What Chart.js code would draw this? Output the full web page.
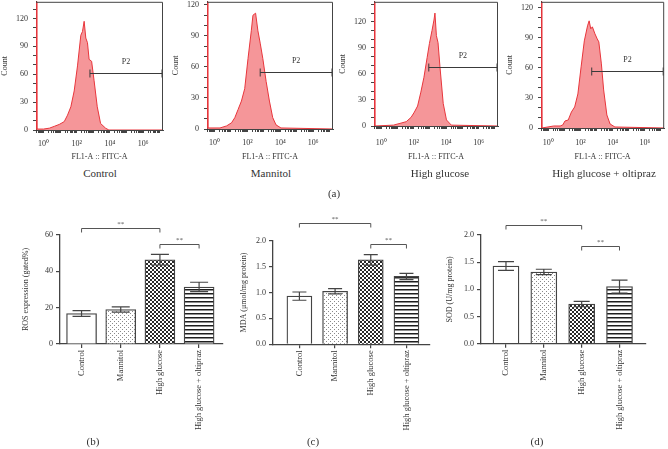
<!DOCTYPE html>
<html>
<head>
<meta charset="utf-8">
<script src="https://cdn.jsdelivr.net/npm/chart.js@4.4.1/dist/chart.umd.min.js"></script>
<style>
  body { margin: 0; background: #fff; width: 668px; height: 449px; overflow: hidden; position: relative;
         font-family: "Liberation Serif", serif; color: #333; }
  .box { position: absolute; }
  .cap { position: absolute; font-size: 11px; transform: translate(-50%, -50%); white-space: nowrap; }
</style>
</head>
<body>
<div class="box" style="left:0;top:-4px;width:170px;height:169px"><canvas id="h1"></canvas></div>
<div class="box" style="left:171px;top:-4px;width:170px;height:169px"><canvas id="h2"></canvas></div>
<div class="box" style="left:338px;top:-4px;width:170px;height:169px"><canvas id="h3"></canvas></div>
<div class="box" style="left:505px;top:-4px;width:163px;height:169px"><canvas id="h4"></canvas></div>

<div class="cap" style="left:100px;top:173px">Control</div>
<div class="cap" style="left:271px;top:173px">Mannitol</div>
<div class="cap" style="left:440px;top:173px">High glucose</div>
<div class="cap" style="left:604px;top:173px">High glucose + oltipraz</div>
<div class="cap" style="left:334px;top:193px">(a)</div>

<div class="box" style="left:14px;top:205px;width:216px;height:245px"><canvas id="b1"></canvas></div>
<div class="box" style="left:234px;top:205px;width:206px;height:245px"><canvas id="b2"></canvas></div>
<div class="box" style="left:444px;top:205px;width:224px;height:245px"><canvas id="b3"></canvas></div>

<div class="cap" style="left:93px;top:441px">(b)</div>
<div class="cap" style="left:313px;top:441px">(c)</div>
<div class="cap" style="left:537px;top:441px">(d)</div>

<script>
// flow cytometry histograms (x = log10 of FL1-A, y = count)
const controlLogFL1 = [-0.45, -0.4, 0.0, 0.36, 0.66, 0.95, 1.25, 1.45, 1.65, 1.85, 2.05, 2.25, 2.35, 2.45, 2.55, 2.65, 2.75, 2.9, 3.05, 3.24, 3.44, 3.74, 3.94, 7.2];
const controlCount  = [150, 1, 1, 2, 4, 6, 9, 16, 25, 42, 69, 102, 106, 117, 99, 94, 76, 74, 53, 25, 7, 2, 0, 0];
const mannitolLogFL1 = [-0.45, -0.4, 0.34, 0.74, 1.04, 1.24, 1.44, 1.64, 1.84, 2.04, 2.24, 2.34, 2.5, 2.64, 2.78, 2.94, 3.14, 3.34, 3.54, 3.74, 4.04, 7.2];
const mannitolCount  = [150, 1, 1, 3, 6, 11, 19, 27, 39, 68, 95, 110, 112, 95, 83, 68, 46, 27, 11, 4, 1, 0];
const hgLogFL1 = [-0.45, -0.4, 0.75, 1.15, 1.54, 1.84, 2.04, 2.24, 2.44, 2.63, 2.83, 2.97, 3.13, 3.25, 3.31, 3.4, 3.5, 3.62, 3.82, 4.02, 4.32, 7.2];
const hgCount  = [160, 0, 1, 3, 5, 10, 16, 23, 39, 56, 79, 95, 110, 122, 130, 104, 96, 68, 26, 7, 1, 0];
const oltLogFL1 = [-0.45, -0.4, 0.34, 0.74, 0.9, 1.04, 1.24, 1.44, 1.64, 1.84, 2.04, 2.24, 2.44, 2.54, 2.64, 2.74, 2.9, 3.04, 3.14, 3.3, 3.44, 3.64, 3.84, 4.14, 7.2];
const oltCount  = [150, 0, 2, 2, 3, 7, 8, 16, 21, 34, 61, 87, 102, 107, 99, 101, 94, 89, 86, 64, 38, 13, 4, 1, 0];

const histMaxCount = [138, 123, 143, 126];
const gateFrom  = [2.8, 2.78, 2.93, 2.7];
const gateCount = [61, 55, 68, 57];

// bar charts (mean and error)
const groups  = ["Control", "Mannitol", "High glucose", "High glucose + oltipraz"];
const rosMean = [16.8, 19.0, 46.4, 31.4];
const rosErr  = [1.6, 1.4, 2.9, 2.6];
const mdaMean = [0.93, 1.025, 1.63, 1.31];
const mdaErr  = [0.08, 0.05, 0.10, 0.06];
const sodMean = [1.43, 1.32, 0.73, 1.05];
const sodErr  = [0.08, 0.05, 0.05, 0.12];

Chart.defaults.font.family = '"Liberation Serif", serif';
Chart.defaults.color = "#333";

const SUP = { 0: "\u2070", 2: "\u00B2", 4: "\u2074", 6: "\u2076" };
const LOG_MIN = -0.45, LOG_MAX = 7.2;

const boxFrame = {
  id: "boxFrame",
  afterDraw(chart) {
    const { ctx, chartArea: a } = chart;
    ctx.save();
    ctx.strokeStyle = "#444";
    ctx.lineWidth = 1;
    ctx.beginPath();
    ctx.moveTo(a.left, a.top + 0.5);
    ctx.lineTo(a.right - 0.5, a.top + 0.5);
    ctx.lineTo(a.right - 0.5, a.bottom);
    ctx.stroke();
    ctx.restore();
  }
};

const gateMarker = {
  id: "gateMarker",
  afterDatasetsDraw(chart, args, opts) {
    const { ctx, scales: { x, y } } = chart;
    const x1 = x.getPixelForValue(opts.from), x2 = x.getPixelForValue(LOG_MAX) - 1;
    const yy = Math.round(y.getPixelForValue(opts.count)) + 0.5;
    ctx.save();
    ctx.strokeStyle = "#3a3a3a";
    ctx.lineWidth = 1;
    ctx.beginPath();
    ctx.moveTo(x1, yy); ctx.lineTo(x2, yy);
    ctx.moveTo(x1, yy - 4); ctx.lineTo(x1, yy + 4);
    ctx.moveTo(x2, yy - 4); ctx.lineTo(x2, yy + 4);
    ctx.stroke();
    ctx.fillStyle = "#333";
    ctx.font = '8px "Liberation Serif", serif';
    ctx.textAlign = "center";
    ctx.textBaseline = "middle";
    ctx.fillText("P2", (x1 + x2) / 2, yy - 12);
    ctx.restore();
  }
};

function histChart(id, xs, ys, idx, xh, padRight, labelPad) {
  const pts = xs.map((v, i) => ({ x: v, y: ys[i] }));
  const ymax = histMaxCount[idx];
  return new Chart(document.getElementById(id), {
    type: "line",
    data: { datasets: [{
      data: pts, borderColor: "#e8363c", borderWidth: 1,
      backgroundColor: "rgba(238,80,85,0.6)", fill: "origin",
      pointRadius: 0, tension: 0
    }] },
    options: {
      animation: false, responsive: true, maintainAspectRatio: false,
      layout: { padding: { top: 1, right: padRight } },
      plugins: { legend: { display: false }, tooltip: { enabled: false },
                 gateMarker: { from: gateFrom[idx], count: gateCount[idx] } },
      scales: {
        x: {
          type: "linear", min: LOG_MIN, max: LOG_MAX,
          afterBuildTicks: s => {
            const t = [];
            for (let d = -1; d <= 7; d++)
              for (let k = 1; k < 10; k++) {
                const v = d + Math.log10(k);
                if (v >= LOG_MIN && v <= LOG_MAX) t.push({ value: v });
              }
            s.ticks = t;
          },
          afterFit: s => { s.height = xh; },
          grid: { display: true, drawOnChartArea: false, tickLength: 3, color: "#444" },
          border: { color: "#444", width: 1 },
          ticks: {
            autoSkip: false, maxRotation: 0, padding: labelPad, font: { size: 8 }, color: "#333",
            callback: v => {
              const r = Math.round(v);
              return (Math.abs(v - r) < 1e-6 && r >= 0 && r % 2 === 0) ? "10" + SUP[r] : "";
            }
          },
          title: { display: true, text: "FL1-A :: FITC-A", font: { size: 8 }, color: "#333", padding: { top: 0, bottom: 3 } }
        },
        y: {
          min: 0, max: ymax,
          afterBuildTicks: s => {
            const t = [];
            for (let v = 0; v < ymax; v += 10) t.push({ value: v });
            s.ticks = t;
          },
          afterFit: s => { s.width = 36; },
          grid: { display: true, drawOnChartArea: false, tickLength: 3, color: "#444" },
          border: { color: "#333", width: 1 },
          ticks: { autoSkip: false, padding: 5, font: { size: 8, lineHeight: 0.2 }, color: "#333",
                   callback: v => (v % 30 === 0 ? String(v) : "") },
          title: { display: true, text: "Count", font: { size: 8 }, color: "#333", padding: { top: 0, bottom: 0 } }
        }
      }
    },
    plugins: [boxFrame, gateMarker]
  });
}

histChart("h1", controlLogFL1, controlCount, 0, 35, 7, 6);
histChart("h2", mannitolLogFL1, mannitolCount, 1, 36, 8, 6);
histChart("h3", hgLogFL1, hgCount, 2, 39, 10, 9);
histChart("h4", oltLogFL1, oltCount, 3, 37, 1, 7);

// fill patterns for the bars
function makePattern(w, h, draw) {
  const c = document.createElement("canvas");
  c.width = w; c.height = h;
  const g = c.getContext("2d");
  g.fillStyle = "#fff";
  g.fillRect(0, 0, w, h);
  draw(g);
  return g.createPattern(c, "repeat");
}
const dotted = makePattern(4, 4, g => {
  g.fillStyle = "#8a8a8a";
  g.fillRect(0, 0, 1, 1);
  g.fillRect(2, 2, 1, 1);
});
const checker = makePattern(4, 4, g => {
  g.fillStyle = "#2a2a2a";
  g.fillRect(2, 0, 2, 2);
  g.fillRect(0, 2, 2, 2);
});
const striped = makePattern(4, 4, g => {
  g.fillStyle = "#1e1e1e";
  g.fillRect(0, 0, 4, 1);
  g.fillStyle = "rgba(30,30,30,0.5)";
  g.fillRect(0, 1, 4, 1);
});
const barFills = ["#ffffff", dotted, checker, striped];

const errorBars = {
  id: "errorBars",
  afterDatasetsDraw(chart, args, opts) {
    const { ctx, scales: { y } } = chart;
    const meta = chart.getDatasetMeta(0);
    ctx.save();
    ctx.strokeStyle = "#444";
    ctx.lineWidth = 1.2;
    meta.data.forEach((bar, i) => {
      const m = opts.mean[i], e = opts.err[i];
      const yt = y.getPixelForValue(m + e), yb = y.getPixelForValue(m - e);
      const hw = opts.cap / 2;
      ctx.beginPath();
      ctx.moveTo(bar.x, yt); ctx.lineTo(bar.x, yb);
      ctx.moveTo(bar.x - hw, yt); ctx.lineTo(bar.x + hw, yt);
      ctx.moveTo(bar.x - hw, yb); ctx.lineTo(bar.x + hw, yb);
      ctx.stroke();
    });
    ctx.restore();
  }
};

const sigBrackets = {
  id: "sigBrackets",
  afterDraw(chart, args, opts) {
    const { ctx, scales: { x, y } } = chart;
    ctx.save();
    ctx.strokeStyle = "#555";
    ctx.lineWidth = 1;
    ctx.fillStyle = "#555";
    ctx.font = '7px "Liberation Serif", serif';
    ctx.textAlign = "center";
    ctx.textBaseline = "alphabetic";
    opts.items.forEach(b => {
      const x1 = x.getPixelForValue(b.from), x2 = x.getPixelForValue(b.to);
      const yy = Math.round(y.getPixelForValue(b.at)) + 0.5;
      ctx.beginPath();
      ctx.moveTo(x1, yy + 4); ctx.lineTo(x1, yy); ctx.lineTo(x2, yy); ctx.lineTo(x2, yy + 4);
      ctx.stroke();
      ctx.fillText("**", (x1 + x2) / 2, yy - 3);
    });
    ctx.restore();
  }
};

function barChart(id, mean, err, o) {
  return new Chart(document.getElementById(id), {
    type: "bar",
    data: { datasets: [{
      data: mean.map((v, i) => ({ x: i, y: v })),
      backgroundColor: barFills, borderColor: "#444", borderWidth: 1.3,
      barThickness: o.bw, borderSkipped: "bottom"
    }] },
    options: {
      animation: false, responsive: true, maintainAspectRatio: false,
      layout: { padding: { top: o.top, right: o.right } },
      plugins: { legend: { display: false }, tooltip: { enabled: false },
                 errorBars: { mean: mean, err: err, cap: o.cap },
                 sigBrackets: { items: o.brackets } },
      scales: {
        x: {
          type: "linear", min: o.xmin, max: o.xmax, offset: false,
          afterBuildTicks: s => { s.ticks = groups.map((g, i) => ({ value: i })); },
          afterFit: s => { s.height = o.xh; },
          grid: { display: true, offset: false, drawOnChartArea: false, tickLength: 4, color: "#444", lineWidth: 1.2 },
          border: { color: "#444", width: 1.3 },
          ticks: { autoSkip: false, minRotation: 90, maxRotation: 90, padding: 2,
                   font: { size: 8.5 }, color: "#333", callback: v => groups[v] }
        },
        y: {
          min: 0, max: o.ymax,
          afterFit: s => { s.width = o.yw; },
          grid: { display: true, drawOnChartArea: false, tickLength: 4, color: "#444", lineWidth: 1.2 },
          border: { color: "#444", width: 1.3 },
          ticks: { stepSize: o.step, padding: 3, font: { size: 8 }, color: "#333",
                   callback: v => (o.step < 1 ? v.toFixed(1) : String(v)) },
          title: { display: true, text: o.title, font: { size: 8 }, color: "#333",
                   padding: { top: o.tpad, bottom: 0 } }
        }
      }
    },
    plugins: [errorBars, sigBrackets]
  });
}

barChart("b1", rosMean, rosErr, {
  ymax: 60, step: 20, title: "ROS expression (gated%)", tpad: 7,
  xmin: -0.55, xmax: 3.61, bw: 30, cap: 18, top: 30, right: 7, xh: 106, yw: 46,
  brackets: [{ from: 0, to: 2, at: 64 }, { from: 2, to: 3, at: 55.3 }]
});
barChart("b2", mdaMean, mdaErr, {
  ymax: 2.0, step: 0.5, title: "MDA (\u03BCmol/mg protein)", tpad: 5,
  xmin: -0.74, xmax: 3.66, bw: 25, cap: 14, top: 35.7, right: 10, xh: 105.7, yw: 39,
  brackets: [{ from: 0, to: 2, at: 2.34 }, { from: 2, to: 3, at: 1.94 }]
});
barChart("b3", sodMean, sodErr, {
  ymax: 2.0, step: 0.5, title: "SOD (U/mg protein)", tpad: 1,
  xmin: -0.66, xmax: 3.70, bw: 26, cap: 16, top: 30, right: 22, xh: 106.3, yw: 37,
  brackets: [{ from: 0, to: 2, at: 2.19 }, { from: 2, to: 3, at: 1.80 }]
});
</script>
</body>
</html>
